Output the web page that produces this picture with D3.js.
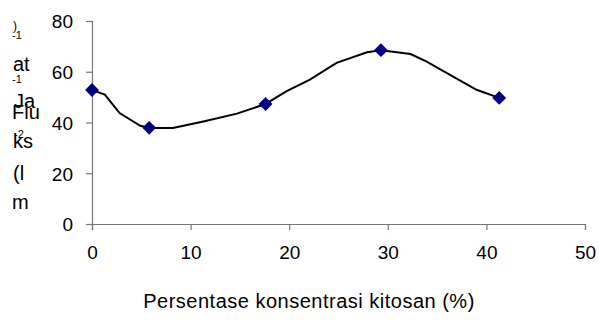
<!DOCTYPE html>
<html>
<head>
<meta charset="utf-8">
<script src="https://cdn.jsdelivr.net/npm/d3@7"></script>
<style>
  body { margin: 0; background: #fff; }
  text { font-family: Arial, "Liberation Sans", sans-serif; fill: #000; }
</style>
</head>
<body>
<script>
// measured points (kitosan %, flux)
const konsentrasi = [0, 5.8, 17.6, 29.3, 41.3];
const fluks = [52.8, 37.9, 47.3, 68.5, 49.7];

// vertices of the drawn smoothed line
const garisX = [0, 1.3, 2.8, 4.9, 5.9, 8.2, 11.3, 14.7, 17.6, 19.7, 22.1, 24.8, 27.9, 29.3, 32.3, 33.9, 36.0, 39.0, 41.3];
const garisY = [52.8, 51, 43.7, 38.7, 37.8, 37.8, 40.4, 43.5, 47.3, 52.3, 56.9, 63.5, 67.7, 68.5, 67.0, 64.1, 59.5, 52.9, 49.7];

const xTicks = [0, 10, 20, 30, 40, 50];
const yTicks = [0, 20, 40, 60, 80];

const xTitle = "Persentase konsentrasi kitosan (%)";

function drawChart(){

    const xSize = 599; const ySize = 322;
    const left = 92, top = 21;
    const xMax = 585 - left;
    const yMax = 224 - top;

    const root = d3.select("body")
    .append("svg")
    .attr("width", xSize)
    .attr("height", ySize);

    const svg = root.append("g")
    .attr("transform", "translate(" + left + "," + top + ")");

    const x = d3.scaleLinear().domain([0, 50]).range([0, xMax]);
    const y = d3.scaleLinear().domain([0, 80]).range([yMax, 0]);

    // x axis
    const gx = svg.append("g")
    .attr("transform", "translate(0," + yMax + ")")
    .call(d3.axisBottom(x).tickValues(xTicks).tickSize(6).tickPadding(16));

    // y axis
    const gy = svg.append("g")
    .call(d3.axisLeft(y).tickValues(yTicks).tickSize(6).tickPadding(13));

    [gx, gy].forEach(g => {
        g.select(".domain").attr("stroke", "#777").attr("stroke-width", 1.2);
        g.selectAll(".tick line").attr("stroke", "#777").attr("stroke-width", 1.2);
        g.selectAll(".tick text")
            .style("font-size", "19px")
            .attr("fill", "#000");
    });
    gy.selectAll(".tick text").attr("dy", "0.36em");

    // line
    const pts = garisX.map((d, i) => [d, garisY[i]]);
    svg.append("path")
    .datum(pts)
    .attr("fill", "none")
    .attr("stroke", "#000")
    .attr("stroke-width", 2)
    .attr("d", d3.line()
        .x(d => x(d[0]))
        .y(d => y(d[1]))
    );

    // markers
    svg.selectAll(".dot")
    .data(konsentrasi)
    .enter()
    .append("path")
    .attr("class", "dot")
    .attr("d", d3.symbol(d3.symbolSquare, 96))
    .attr("transform", (d, i) => "translate(" + x(d) + "," + y(fluks[i]) + ") rotate(45)")
    .attr("fill", "#000080");

    // x title
    root.append("text")
    .attr("x", 309)
    .attr("y", 308)
    .attr("text-anchor", "middle")
    .style("font-size", "20px")
    .style("letter-spacing", "0.5px")
    .text(xTitle);

    // y title: wrapped and clipped as in the original
    const yParts = [
        {t: ")", x: 13, y: 30, s: 12},
        {t: "-1", x: 12, y: 39, s: 11},
        {t: "at", x: 13, y: 71, s: 20},
        {t: "-1", x: 12, y: 83, s: 11},
        {t: "Ja", x: 14, y: 108, s: 20},
        {t: "Flu", x: 12, y: 119, s: 20},
        {t: "-2", x: 14, y: 138, s: 11},
        {t: "ks", x: 13, y: 148, s: 20},
        {t: "(l", x: 13, y: 180, s: 20},
        {t: "m", x: 12, y: 209, s: 20}
    ];
    root.selectAll(".ylab")
    .data(yParts)
    .enter()
    .append("text")
    .attr("class", "ylab")
    .attr("x", d => d.x)
    .attr("y", d => d.y)
    .style("font-size", d => d.s + "px")
    .text(d => d.t);
}

drawChart();
</script>
</body>
</html>
